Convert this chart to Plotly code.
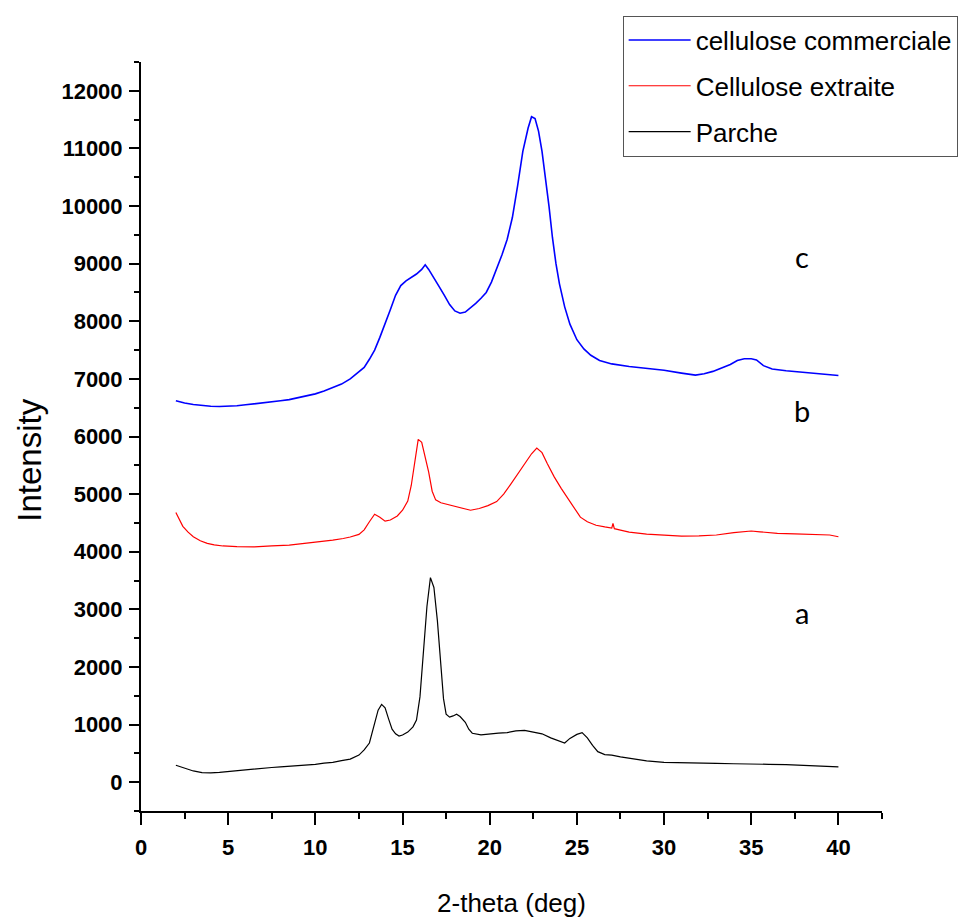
import plotly.graph_objects as go

# ---- data (2-theta in degrees, intensity in counts) ----
parche_x = [2.0, 2.5, 3.0, 3.5, 4.0, 4.5, 5.0, 5.5, 6.0, 6.5, 7.0, 7.5, 8.0, 8.5, 9.0, 9.5,
            10.0, 10.5, 11.0, 11.5, 12.0, 12.5, 12.8, 13.1, 13.4, 13.6, 13.8, 14.0, 14.2, 14.4,
            14.6, 14.8, 15.0, 15.3, 15.6, 15.8, 16.0, 16.2, 16.4, 16.6, 16.8, 17.0, 17.2, 17.35,
            17.5, 17.7, 17.9, 18.1, 18.3, 18.6, 18.8, 19.0, 19.5, 20.0, 20.5, 21.0, 21.5, 22.0,
            22.5, 23.0, 23.5, 24.0, 24.3, 24.6, 25.0, 25.3, 25.6, 25.9, 26.2, 26.6, 27.0, 27.5,
            28.0, 28.5, 29.0, 30.0, 31.0, 32.0, 33.0, 34.0, 35.0, 36.0, 37.0, 38.0, 39.0, 40.0]
parche_y = [295, 240, 195, 165, 160, 170, 185, 205, 215, 230, 240, 255, 265, 275, 280, 295,
            310, 330, 345, 375, 400, 470, 560, 680, 1000, 1250, 1350, 1290, 1100, 920,
            840, 800, 820, 870, 960, 1080, 1480, 2300, 3050, 3550, 3380, 2800, 1950, 1450,
            1180, 1130, 1150, 1180, 1140, 1040, 920, 850, 820, 840, 850, 860, 890, 900,
            870, 840, 770, 720, 680, 760, 830, 860, 770, 640, 530, 480, 470, 440,
            420, 395, 370, 345, 335, 330, 325, 320, 320, 310, 305, 295, 285, 265]

extraite_x = [2.0, 2.2, 2.4, 2.7, 3.0, 3.4, 3.8, 4.2, 4.7, 5.5, 6.5, 7.5, 8.5, 9.5, 10.3, 11.0,
              11.6, 12.0, 12.5, 12.8, 13.1, 13.4, 13.7, 14.0, 14.3, 14.7, 15.0, 15.3, 15.5, 15.7,
              15.9, 16.1, 16.3, 16.5, 16.7, 16.9, 17.2, 17.6, 18.0, 18.5, 18.9, 19.4, 19.9, 20.4,
              20.8, 21.2, 21.6, 22.0, 22.4, 22.7, 23.0, 23.3, 23.7, 24.1, 24.5, 24.9, 25.2, 25.6,
              26.1, 26.6, 27.0, 27.07, 27.15, 27.5, 28.0, 29.0, 30.0, 31.0, 32.0, 33.0, 34.0, 35.0,
              35.5, 36.5, 37.5, 38.5, 39.5, 40.0]
extraite_y = [4680, 4560, 4440, 4340, 4260, 4190, 4145, 4120, 4100, 4090, 4085, 4100, 4115, 4150, 4175, 4200,
              4230, 4255, 4300, 4380, 4520, 4650, 4600, 4530, 4550, 4620, 4720, 4880, 5150, 5530,
              5950, 5900, 5650, 5380, 5050, 4900, 4850, 4820, 4800, 4750, 4720, 4750, 4800, 4870,
              5000, 5170, 5350, 5520, 5700, 5800, 5720, 5530, 5300, 5100, 4920, 4720, 4600, 4520,
              4460, 4430, 4410, 4490, 4400, 4375, 4340, 4305, 4285, 4270, 4275, 4290, 4330, 4360,
              4345, 4320, 4310, 4305, 4290, 4260]

commerciale_x = [2.0, 2.5, 3.0, 3.5, 4.0, 4.5, 5.0, 5.5, 6.0, 6.5, 7.0, 7.5, 8.0, 8.5, 9.0, 9.5,
                 10.0, 10.5, 11.0, 11.5, 12.0, 12.5, 12.8, 13.1, 13.4, 13.7, 14.0, 14.3, 14.6, 14.9,
                 15.2, 15.5, 15.8, 16.1, 16.3, 16.5, 16.8, 17.1, 17.4, 17.7, 18.0, 18.3, 18.6, 18.9,
                 19.2, 19.5, 19.8, 20.1, 20.4, 20.7, 21.0, 21.3, 21.6, 21.9, 22.2, 22.4, 22.6, 22.8,
                 23.0, 23.2, 23.4, 23.6, 23.8, 24.0, 24.3, 24.6, 25.0, 25.4, 25.8, 26.3, 27.0, 28.0,
                 29.0, 30.0, 31.0, 31.8, 32.3, 32.8, 33.3, 33.8, 34.2, 34.6, 35.0, 35.3, 35.7, 36.2,
                 37.0, 38.0, 39.0, 40.0]
commerciale_y = [6620, 6580, 6555, 6535, 6525, 6520, 6525, 6535, 6550, 6565, 6580, 6600, 6620, 6640, 6670, 6705,
                 6740, 6790, 6850, 6910, 7000, 7120, 7200, 7340, 7500, 7720, 7950, 8200, 8450, 8620,
                 8700, 8760, 8820, 8900, 8980, 8900, 8760, 8600, 8450, 8290, 8180, 8140, 8160, 8230,
                 8310, 8400, 8500, 8680, 8900, 9150, 9420, 9800, 10350, 10950, 11350, 11550, 11520, 11300,
                 10950, 10500, 10000, 9450, 9000, 8650, 8250, 7950, 7680, 7520, 7410, 7320, 7260, 7215,
                 7180, 7150, 7100, 7065, 7090, 7130, 7190, 7250, 7320, 7350, 7350, 7330, 7230, 7170,
                 7140, 7110, 7090, 7060]

series_names = ["cellulose commerciale", "Cellulose extraite", "Parche"]
curve_labels = ["c", "b", "a"]
label_x = [37.9, 37.9, 37.9]
label_y = [9130, 6460, 2950]

x_ticks = [0, 5, 10, 15, 20, 25, 30, 35, 40]
y_ticks = [0, 1000, 2000, 3000, 4000, 5000, 6000, 7000, 8000, 9000, 10000, 11000, 12000]

SANS = "Liberation Sans, Arial, sans-serif"

fig = go.Figure()
fig.add_trace(go.Scatter(x=commerciale_x, y=commerciale_y, mode="lines", name=series_names[0],
                         legendgroup="g1", line=dict(color="#0000ff", width=1.6)))
fig.add_trace(go.Scatter(x=extraite_x, y=extraite_y, mode="lines", name=series_names[1],
                         legendgroup="g2", line=dict(color="#ff0000", width=1.2)))
fig.add_trace(go.Scatter(x=parche_x, y=parche_y, mode="lines", name=series_names[2],
                         legendgroup="g3", line=dict(color="#000000", width=1.2)))

for t, xx, yy in zip(curve_labels, label_x, label_y):
    fig.add_annotation(x=xx, y=yy, text=t, showarrow=False, xref="x", yref="y",
                       font=dict(family="Lato, Open Sans, sans-serif", size=29, color="black"))

# y-axis title placed as a rotated annotation (sits slightly below the axis middle)
fig.add_annotation(x=-0.1515, y=0.4686, xref="paper", yref="paper", text="Intensity",
                   textangle=-90, showarrow=False, xanchor="center", yanchor="middle",
                   font=dict(family=SANS, size=33, color="black"))

fig.update_layout(
    width=970, height=924,
    margin=dict(l=133, r=96, t=54, b=121, autoexpand=False),
    paper_bgcolor="white", plot_bgcolor="white",
    showlegend=True,
    legend=dict(x=0.650, y=1.062, xanchor="left", yanchor="top",
                bgcolor="white", bordercolor="#555555", borderwidth=1,
                font=dict(family=SANS, size=26, color="black"),
                itemwidth=62, tracegroupgap=9, traceorder="grouped"),
)

fig.update_xaxes(
    range=[0, 42.5], showgrid=False, zeroline=False, automargin=False,
    showline=True, linecolor="black", linewidth=2,
    ticks="outside", ticklen=12, tickwidth=2, tickcolor="black",
    tickvals=x_ticks, ticktext=[str(v) for v in x_ticks],
    tickfont=dict(family=SANS, size=22, color="black", weight="bold"),
    ticklabelstandoff=4,
    minor=dict(ticks="outside", ticklen=6, tickwidth=2, tickcolor="black", dtick=2.5, tick0=0),
    title=dict(text="2-theta (deg)", font=dict(family=SANS, size=26, color="black"), standoff=34),
)
fig.update_yaxes(
    range=[-500, 12500], showgrid=False, zeroline=False, automargin=False,
    showline=True, linecolor="black", linewidth=2,
    ticks="outside", ticklen=10, tickwidth=2, tickcolor="black",
    tickvals=y_ticks, ticktext=[str(v) for v in y_ticks],
    tickfont=dict(family=SANS, size=22, color="black", weight="bold"),
    ticklabelstandoff=2,
    minor=dict(ticks="outside", ticklen=5, tickwidth=2, tickcolor="black", dtick=500, tick0=0),
)

fig.write_html("out.html")
